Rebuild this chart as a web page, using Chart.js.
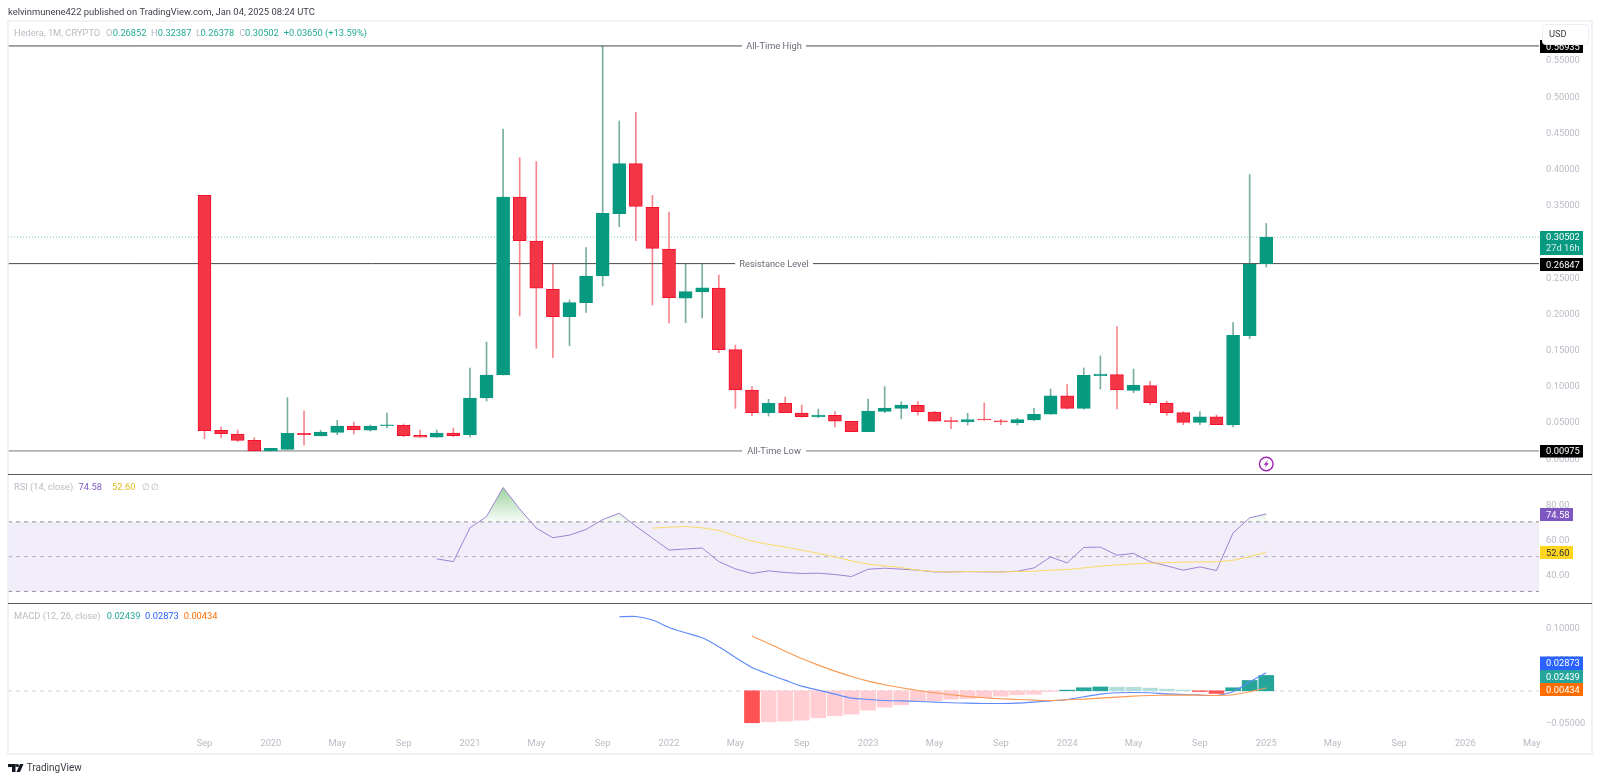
<!DOCTYPE html>
<html><head><meta charset="utf-8">
<script src="https://cdn.jsdelivr.net/npm/chart.js@4/dist/chart.umd.min.js"></script>
<style>html,body{margin:0;padding:0;background:#fff}canvas{display:block}</style>
</head><body><canvas id="c" width="1600" height="782"></canvas>
<script>
// month index 0 = Sep 2019
const opens=[.3628,.0383,.0331,.0244,.0097,.0120,.0341,.0304,.0355,.0442,.0383,.0446,.0452,.0314,.0286,.0345,.0322,.0829,.1146,.3605,.2997,.2330,.1952,.2145,.2514,.3374,.4065,.3463,.2887,.2206,.2293,.2348,.1496,.0939,.0626,.0756,.0622,.0566,.0590,.0507,.0363,.0645,.0686,.0728,.0635,.0510,.0501,.0535,.0515,.0488,.0525,.0604,.0860,.0686,.1137,.1151,.0935,.0999,.0760,.0626,.0493,.0570,.0456,.1689,.26852];
const highs=[.3628,.0428,.0387,.0280,.0134,.0833,.0649,.0383,.0521,.0497,.0456,.0622,.0470,.0387,.0387,.0414,.1243,.1602,.4544,.4148,.4093,.2680,.2182,.2905,.5691,.4655,.4775,.3628,.3398,.2689,.2680,.2528,.1561,.0985,.0811,.0843,.0732,.0677,.0640,.0507,.0815,.0985,.0778,.0778,.0645,.0562,.0617,.0760,.0535,.0548,.0686,.0953,.1018,.1243,.1409,.1814,.1229,.1059,.0787,.0640,.0640,.0594,.1869,.3914,.32387];
const lows=[.0266,.0276,.0225,.0097,.0097,.0120,.0180,.0304,.0322,.0331,.0373,.0414,.0294,.0286,.0286,.0294,.0290,.0787,.1146,.1961,.1515,.1385,.1551,.2012,.2376,.3195,.3001,.2113,.1865,.1869,.1934,.1454,.0686,.0584,.0580,.0626,.0562,.0557,.0428,.0363,.0363,.0626,.0543,.0590,.0507,.0405,.0456,.0520,.0460,.0456,.0515,.0604,.0673,.0673,.0953,.0677,.0902,.0732,.0590,.0460,.0460,.0460,.0428,.1648,.26378];
const closes=[.0377,.0336,.0244,.0097,.0134,.0341,.0322,.0359,.0442,.0387,.0442,.0456,.0308,.0286,.0345,.0308,.0829,.1146,.3605,.3001,.2344,.1952,.2145,.2514,.3380,.4065,.3476,.2896,.2214,.2297,.2352,.1496,.0939,.0626,.0756,.0626,.0570,.0594,.0507,.0363,.0649,.0691,.0732,.0640,.0507,.0503,.0529,.0525,.0497,.0529,.0604,.0860,.0686,.1142,.1160,.0939,.1004,.0764,.0626,.0493,.0570,.0460,.1695,.2680,.30502];

const rsiStart=14;
const rsiValues=[48.67,47.14,66.57,73.05,89.81,77.43,66.38,60.86,62.38,65.62,71.33,74.95,67.52,60.67,53.81,54.38,54.95,47.14,42.95,40.29,41.81,40.86,40.29,40.48,39.71,38.57,42.76,43.33,42.8,42.2,41.2,41.2,41.4,41.2,41.2,41.6,43.5,49.8,46.4,55.3,55.5,50.8,51.9,47.1,44.7,42.2,44.1,42.0,63.7,72.3,74.58];
const rsiMaStart=27;
const rsiMaValues=[66.38,66.95,67.33,66.57,65.05,61.81,58.95,57.05,55.52,53.62,51.9,49.81,47.52,45.62,44.67,43.7,42.2,41.4,41.2,41.4,41.4,41.2,41.4,41.6,42.2,42.6,43.5,44.5,45.2,45.8,46.2,46.6,46.8,47.0,47.0,47.9,50.0,52.6];

const macdStart=25;
const macdValues=[.1173,.1179,.1121,.1004,.0920,.0840,.0698,.0529,.0370,.0264,.0169,.0074,.0011,-.0053,-.0116,-.0137,-.0153,-.0159,-.0169,-.0180,-.0190,-.0196,-.0201,-.0201,-.0196,-.0180,-.0159,-.0137,-.0095,-.0053,-.0032,-.0026,-.0032,-.0048,-.0058,-.0069,-.0074,-.0016,.0143,.02873];
const signalStart=33;
const signalValues=[.0867,.0750,.0629,.0512,.0407,.0312,.0227,.0153,.0095,.0048,.0005,-.0032,-.0063,-.0090,-.0111,-.0127,-.0137,-.0148,-.0153,-.0143,-.0132,-.0116,-.0100,-.0085,-.0074,-.0069,-.0069,-.0069,-.0074,-.0063,-.0016,.00434];
const histStart=33;
const histValues=[-.0507,-.0492,-.0481,-.0465,-.0428,-.0396,-.0370,-.0307,-.0259,-.0222,-.0169,-.0159,-.0132,-.0122,-.0106,-.0085,-.0063,-.0053,-.0011,.0011,.0048,.0061,.0058,.0055,.0042,.0026,.0011,-.0011,-.0042,.0048,.0164,.02439];

const priceTicks=[0,.05,.10,.15,.20,.25,.35,.40,.45,.50,.55];
const rsiTicks=[40,60,80];
const macdTicks=[-.05,.05,.10];
const monthTickIndex=[0,4,8,12,16,20,24,28,32,36,40,44,48,52,56,60,64,68,72,76,80];
const monthTickLabels=['Sep','2020','May','Sep','2021','May','Sep','2022','May','Sep','2023','May','Sep','2024','May','Sep','2025','May','Sep','2026','May'];

const allTimeHigh=.5691, resistance=.26847, allTimeLow=.00975, lastClose=.30502;

const UP='#089981', DOWN='#F23645';
const XMIN=-11.845, XMAX=80.44;
const FONT='Roboto, "Open Sans", sans-serif';
const FS=9.3;
const idx=v=>v.map((_,i)=>i);
const at=(start,vals)=>vals.map((y,i)=>({x:start+i,y}));
const isUp=i=>closes[i]>=opens[i];

const cv=document.getElementById('c');
const ctx0=cv.getContext('2d');
const grad=ctx0.createLinearGradient(0,488,0,522);
grad.addColorStop(0,'rgba(76,175,80,.55)');
grad.addColorStop(1,'rgba(76,175,80,.03)');

const hline=(y,yAxisID,color,dash,width,order,gap)=>({type:'line',yAxisID,xAxisID:'x',
  data:gap?[{x:XMIN,y},{x:gap[0],y},{x:(gap[0]+gap[1])/2,y:null},{x:gap[1],y},{x:XMAX,y}]:[{x:XMIN,y},{x:XMAX,y}],
  borderColor:color,borderWidth:width,borderDash:dash,pointRadius:0,fill:false,order,clip:false,spanGaps:false});

const histColor=histValues.map((h,i)=>{const p=i?histValues[i-1]:null;
  if(h>=0) return (p===null||h>=p)?'#26a69a':'#b2dfdb';
  return (p===null||h<p)?'#ff5252':'#ffcdd2';});

const datasets=[
  {type:'bar',label:'Body',yAxisID:'price',xAxisID:'x',grouped:false,order:1,barThickness:13,
   data:opens.map((o,i)=>({x:i,y:[o,closes[i]]})),
   backgroundColor:idx(opens).map(i=>isUp(i)?UP:DOWN),
   borderColor:idx(opens).map(i=>isUp(i)?UP:'#f5102e'),borderWidth:1,borderSkipped:false,minBarLength:1},
  {type:'bar',label:'Wick',yAxisID:'price',xAxisID:'x',grouped:false,order:2,barThickness:1,
   data:lows.map((l,i)=>({x:i,y:[l,highs[i]]})),
   backgroundColor:idx(opens).map(i=>isUp(i)?'rgba(40,125,105,.62)':'rgba(242,54,69,.6)')},
  hline(allTimeHigh,'price','#4a4a4a',[],1,5,[32.4,36.26]),
  hline(resistance,'price','#4a4a4a',[],1,5,[31.98,36.68]),
  hline(allTimeLow,'price','#777777',[],1,5,[32.4,36.26]),
  hline(lastClose,'price','rgba(8,153,129,.55)',[1,2],1,6),
  {type:'line',label:'RSI',yAxisID:'rsi',xAxisID:'x',data:at(rsiStart,rsiValues),borderColor:'#9d83d3',borderWidth:1,pointRadius:0,tension:0,order:1,
   fill:{target:{value:70},above:grad,below:'rgba(0,0,0,0)'}},
  {type:'line',label:'RSI MA',yAxisID:'rsi',xAxisID:'x',data:at(rsiMaStart,rsiMaValues),borderColor:'#fdd96a',borderWidth:1,pointRadius:0,tension:0,order:0,fill:false},
  Object.assign(hline(70,'rsi','#8f8f96',[4,4],1,8),{fill:{target:{value:30}},backgroundColor:'rgba(126,87,194,.1)'}),
  hline(50,'rsi','rgba(120,123,134,.55)',[4,4],1,7),
  hline(30,'rsi','#8f8f96',[4,4],1,7),
  hline(0,'macd','#dfe1e6',[4,4],1.5,9),
  {type:'bar',label:'Histogram',yAxisID:'macd',xAxisID:'x',grouped:false,order:3,barThickness:15,data:at(histStart,histValues),backgroundColor:histColor},
  {type:'line',label:'MACD',yAxisID:'macd',xAxisID:'x',data:at(macdStart,macdValues),borderColor:'#5f8bfb',borderWidth:1.1,pointRadius:0,tension:.2,order:1,fill:false},
  {type:'line',label:'Signal',yAxisID:'macd',xAxisID:'x',data:at(signalStart,signalValues),borderColor:'#fb9a52',borderWidth:1.1,pointRadius:0,tension:.2,order:0,fill:false}
];

const yAxis=(min,max,ticks,weight,dec)=>({type:'linear',position:'right',stack:'panes',stackWeight:weight,min,max,
  afterBuildTicks:s=>{s.ticks=ticks.map(value=>({value}))},
  afterFit:s=>{s.width=53},
  border:{display:false},grid:{display:false,drawTicks:false},
  ticks:{padding:7,color:'#b8bbc4',font:{family:FONT,size:FS},callback:v=>{
    const t=Math.abs(v).toFixed(dec);return (v<0?'\u2212':'')+t;},autoSkip:false}});

const overlay={id:'overlay',
 beforeDraw(c){const g=c.ctx;g.save();g.fillStyle='#fff';g.fillRect(0,0,1600,782);g.restore();
  ['price','rsi','macd'].forEach(k=>c.scales[k].getLabelItems().forEach(it=>{it.textOffset=1.2;}));},
 afterDraw(c){const g=c.ctx,X=c.scales.x;g.save();
  const txt=(s,x,y,col,size=FS,al='left',w='normal')=>{g.font=w+' '+size+'px '+FONT;g.fillStyle=col;g.textAlign=al;g.textBaseline='middle';g.fillText(s,x,y);};
  // hide axis label overflow at the pane's right edge
  g.fillStyle='#fff';g.fillRect(1540,737,50,16);
  // header
  txt('kelvinmunene422 published on TradingView.com, Jan 04, 2025 08:24 UTC',8,13,'#3d3f47',9.4);
  // frame
  g.strokeStyle='#eceef5';g.lineWidth=1.5;g.strokeRect(8,21,1584,733);
  // separators
  g.strokeStyle='#5a5a5f';g.lineWidth=1;
  [474.5,603.5].forEach(y=>{g.beginPath();g.moveTo(8,y);g.lineTo(1592,y);g.stroke();});
  // legends
  const gr='#b8bbc4',gn='#22ab94';
  txt('Hedera, 1M, CRYPTO',14,34,gr);
  txt('O',106,34,gr);txt('0.26852',112.7,34,gn);
  txt('H',151,34,gr);txt('0.32387',157.7,34,gn);
  txt('L',196,34,gr);txt('0.26378',200.5,34,gn);
  txt('C',239.3,34,gr);txt('0.30502',245,34,gn);
  txt('+0.03650 (+13.59%)',283.7,34,gn);
  txt('RSI (14, close)',14,488,gr);
  txt('74.58',78.6,488,'#7e57c2');txt('52.60',112,488,'#e0b81a');txt('\u2205',142,488,gr);txt('\u2205',151,488,gr);
  txt('MACD (12, 26, close)',14,617,gr);
  txt('0.02439',106.7,617,'#26a69a');txt('0.02873',145,617,'#2962ff');txt('0.00434',183.7,617,'#ff6d00');
  // line labels
  const lab='#6a6d78';
  txt('All-Time High',X.getPixelForValue(34.33),47,lab,FS,'center');
  txt('Resistance Level',X.getPixelForValue(34.33),264.5,lab,FS,'center');
  txt('All-Time Low',X.getPixelForValue(34.33),451.5,lab,FS,'center');
  // price tags
  const tag=(s,y0,y1,bg,fg='#fff',x1=1583)=>{g.fillStyle=bg;g.fillRect(1540,y0,x1-1540,y1-y0);txt(s,1546,(y0+y1)/2+.7,fg);};
  tag('0.56935',40,53,'#000');
  tag('0.26847',258,271,'#000');
  tag('0.00975',445,457.5,'#000');
  g.fillStyle=UP;g.fillRect(1540,231,43,24);
  txt('0.30502',1546,238,'#fff');txt('27d 16h',1546,249,'rgba(255,255,255,.85)');
  tag('74.58',508,521,'#7e57c2','#fff',1573);
  tag('52.60',546,559,'#ffd51e','#2a2e39',1573);
  tag('0.02873',656.5,670,'#2962ff');
  tag('0.02439',670,683,'#26a69a');
  tag('0.00434',683,696,'#ff6d00');
  // USD box
  g.fillStyle='#fff';g.strokeStyle='#eceef5';g.lineWidth=1;
  g.beginPath();g.roundRect(1542.5,24.5,46,20,3);g.fill();g.stroke();
  txt('USD',1549,35,'#3d3f47');
  // marker icon
  const ix=X.getPixelForValue(64),iy=464;
  g.strokeStyle='#9c27b0';g.lineWidth=1.4;g.beginPath();g.arc(ix,iy,6.8,0,Math.PI*2);g.stroke();
  g.fillStyle='#9c27b0';g.beginPath();
  [[1.6,-4],[-2.6,.8],[-.2,.8],[-1.6,4],[2.6,-.8],[.2,-.8]].forEach((p,i)=>{i?g.lineTo(ix+p[0],iy+p[1]):g.moveTo(ix+p[0],iy+p[1]);});
  g.closePath();g.fill();
  // logo
  g.fillStyle='#131722';
  g.fillRect(8,764,7.5,3);g.fillRect(12,764,3.5,8);
  g.beginPath();g.arc(17.4,765.5,1.6,0,Math.PI*2);g.fill();
  g.beginPath();g.moveTo(20,764);g.lineTo(23.5,764);g.lineTo(20,772);g.lineTo(16.5,772);g.closePath();g.fill();
  txt('TradingView',26.7,768.5,'#3a3d46',10);
  g.restore();
 }};

new Chart(cv,{type:'bar',data:{datasets},plugins:[overlay],options:{
  responsive:false,animation:false,devicePixelRatio:1,
  layout:{autoPadding:false,padding:{top:44,left:8,right:8,bottom:28}},
  plugins:{legend:{display:false},tooltip:{enabled:false},title:{display:false}},
  scales:{
    x:{type:'linear',position:'bottom',min:XMIN,max:XMAX,offset:false,
      afterBuildTicks:s=>{s.ticks=monthTickIndex.map(value=>({value}))},
      afterFit:s=>{s.height=19},
      border:{display:false},grid:{display:false,drawTicks:false},
      ticks:{autoSkip:false,maxRotation:0,padding:3,color:'#b8bbc4',font:{family:FONT,size:FS},
        callback:(v)=>monthTickLabels[monthTickIndex.indexOf(v)]}},
    price:yAxis(-.0221,.5718,priceTicks,430,5),
    rsi:yAxis(23.31,97.554,rsiTicks,129,2),
    macd:yAxis(-.07008,.13921,macdTicks,132,5)
  }}});
</script></body></html>
